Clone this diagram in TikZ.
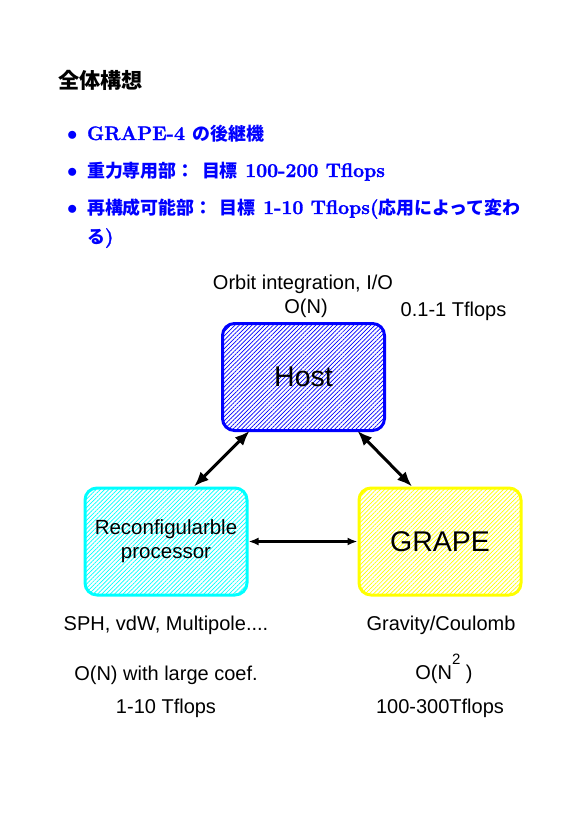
\documentclass[tikz,border=0pt]{standalone}
\usepackage{fontspec}
\setmainfont{Latin Modern Roman}[BoldFeatures={FakeBold=1.5}]
\newfontfamily\sans{Liberation Sans}
\newfontfamily\jp{Noto Sans CJK JP}[Scale=0.92]
\usetikzlibrary{positioning,arrows.meta,patterns.meta}
\definecolor{hostblue}{RGB}{0,0,255}
\definecolor{reconfcyan}{RGB}{0,255,255}
\definecolor{grapeyellow}{RGB}{255,255,0}

\begin{document}
\begin{tikzpicture}
		[x=1pt,y=-1pt,
		block/.style ={rectangle, draw=#1, line width=3pt, rounded corners=12pt, minimum width=162pt, minimum height=107pt, pattern={Lines[angle=45,distance=3pt,line width=0.7pt]}, pattern color=#1, font=\sans\fontsize{28.5}{30}\selectfont, align=center},
		point/.style ={anchor=base west, inner sep=0pt, text=hostblue, align=left, font=\fontsize{19.5}{29}\selectfont\bfseries},
		note/.style ={anchor=base, inner sep=0pt, font=\sans\fontsize{20}{24}\selectfont},
		biarrow/.style ={line width=3pt, {Latex[length=15pt,width=12pt]}-{Latex[length=15pt,width=12pt]}},
		thinarrow/.style ={line width=2.2pt, {Latex[length=10pt,width=8pt]}-{Latex[length=10pt,width=8pt]}},
		]

		\useasboundingbox (0,0) rectangle (579,819);

		\draw (58,88) node[anchor=base west, inner sep=0pt, font=\jp\bfseries\fontsize{23}{23}\selectfont] (title) {全体構想};

		\draw (67,140) node[point] (P1) {$\bullet$\hspace{9.5pt}GRAPE-4 {\jp の後継機}};
		\draw (67,177) node[point] (P2) {$\bullet$\hspace{9.5pt}{\jp 重力専用部：} {\jp 目標} 100-200 Tflops};
		% two lines: base sits on the last one
		\draw (67,243) node[point] (P3) {$\bullet$\hspace{9.5pt}{\jp 再構成可能部：} {\jp 目標} 1-10 Tflops({\jp 応用によって変わ}\\
			\phantom{$\bullet$}\hspace{9.5pt}{\jp る})};

		\draw (303.5,377) node[block=hostblue] (host) {\raisebox{-3pt}{Host}};
		\draw (166,541.5) node[block=reconfcyan, font=\sans\fontsize{20.5}{24}\selectfont] (reconf) {Reconfigularble\\processor};
		\draw (440,541.5) node[block=grapeyellow] (grape) {\raisebox{-2pt}{GRAPE}};

		\draw (303,289) node[note] (orbit) {Orbit integration, I/O};
		\draw (306,313) node[note] (hostorder) {O(N)};
		\draw (453.5,316) node[note] (hostspeed) {0.1-1 Tflops};
		\draw (166,630) node[note] (reconfuse) {SPH, vdW, Multipole....};
		\draw (441,630) node[note] (grapeuse) {Gravity/Coulomb};
		\draw (166,680) node[note] (reconforder) {O(N) with large coef.};
		\draw (444,679) node[note] (grapeorder) {O(N\raisebox{0.75em}{\fontsize{15}{15}\selectfont 2} )};
		\draw (166,713) node[note] (reconfspeed) {1-10 Tflops};
		\draw (440,713) node[note] (grapespeed) {100-300Tflops};

		\path[biarrow]
		(host.225) edge node {} (reconf.63)
		(host.-45) edge node {} (grape.117);
		\path[thinarrow]
		(reconf) edge node {} (grape);
	\end{tikzpicture}
\end{document}
